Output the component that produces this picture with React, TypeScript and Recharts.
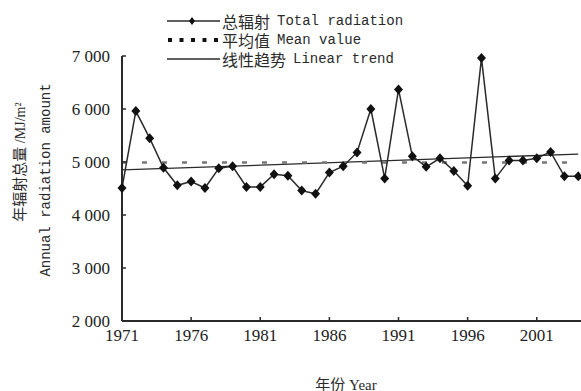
import React from "react"
import { LineChart, Line, XAxis, YAxis, Legend } from "recharts"

const years = [
  1971, 1972, 1973, 1974, 1975, 1976, 1977, 1978, 1979, 1980, 1981, 1982, 1983, 1984, 1985, 1986, 1987,
  1988, 1989, 1990, 1991, 1992, 1993, 1994, 1995, 1996, 1997, 1998, 1999, 2000, 2001, 2002, 2003, 2004,
]
const totalRadiation = [
  4510, 5960, 5450, 4890, 4560, 4630, 4510, 4880, 4920, 4530, 4530, 4770, 4740, 4460, 4400, 4800, 4920,
  5180, 6000, 4690, 6370, 5110, 4910, 5070, 4830, 4550, 6960, 4690, 5030, 5030, 5070, 5190, 4730, 4730,
]
const meanValue = 4990
const trendStart = 4850
const trendEnd = 5150

const xTicks = [1971, 1976, 1981, 1986, 1991, 1996, 2001]
const yTicks = [2000, 3000, 4000, 5000, 6000, 7000]

const legendCn = ["总辐射", "平均值", "线性趋势"]
const legendEn = ["Total radiation", "Mean value", "Linear trend"]
const yTitleCn = "年辐射总量"
const yTitleUnit = " /MJ/m²"
const yTitleEn = "Annual radiation amount"
const xTitle = "年份 Year"

const data = years.map((year, i) => ({
  year,
  total: totalRadiation[i],
  mean: meanValue,
  trend: i === 0 ? trendStart : i === years.length - 1 ? trendEnd : null,
}))

const ink = "#2a2a2a"
const serif = "'Liberation Serif', 'Noto Sans CJK SC', serif"
const mono = "'Liberation Mono', 'Noto Sans CJK SC', monospace"

function Diamond(props: any) {
  const { cx, cy } = props
  if (cx == null || cy == null) return null
  return <path d={`M${cx},${cy - 5} L${cx + 4.5},${cy} L${cx},${cy + 5} L${cx - 4.5},${cy} Z`} fill="#111" />
}

function LegendSymbol({ kind }: { kind: number }) {
  return (
    <svg width={56} height={12} style={{ display: "block", flex: "none" }}>
      {kind === 0 && (
        <>
          <line x1={2} y1={6} x2={55} y2={6} stroke={ink} strokeWidth={1.5} />
          <path d="M27,2 L30,6 L27,10 L24,6 Z" fill="#111" />
        </>
      )}
      {kind === 1 && <line x1={3} y1={6} x2={55} y2={6} stroke="#111" strokeWidth={4} strokeDasharray="4 7.5" />}
      {kind === 2 && <line x1={2} y1={6} x2={55} y2={6} stroke={ink} strokeWidth={1.3} />}
    </svg>
  )
}

function LegendBox() {
  return (
    <div style={{ display: "flex", flexDirection: "column" }}>
      {legendCn.map((cn, i) => (
        <div key={cn} style={{ display: "flex", alignItems: "center", height: 19, whiteSpace: "nowrap", color: ink }}>
          <LegendSymbol kind={i} />
          <span style={{ fontFamily: mono, fontSize: 16, marginLeft: 1 }}>{cn}</span>
          <span style={{ fontFamily: mono, fontSize: 14, marginLeft: 7 }}>{legendEn[i]}</span>
        </div>
      ))}
    </div>
  )
}

const fmt = (v: number) => `${Math.round(v / 1000)} 000`

export default function App() {
  return (
    <div style={{ position: "absolute", left: 0, top: 0, width: 581, height: 391, background: "#fff", overflow: "hidden" }}>
      <LineChart width={581} height={391} data={data} margin={{ top: 56, right: 0, bottom: 30, left: 0 }}>
        <XAxis
          dataKey="year"
          type="number"
          domain={[1971, 2004.2]}
          ticks={xTicks}
          height={40}
          tickSize={-4}
          tickMargin={12}
          axisLine={{ stroke: ink, strokeWidth: 2 }}
          tickLine={{ stroke: ink, strokeWidth: 1.5 }}
          tick={{ fontSize: 17, fill: "#222", fontFamily: serif }}
        />
        <YAxis
          type="number"
          domain={[2000, 7000]}
          ticks={yTicks}
          width={122}
          tickSize={-4}
          tickMargin={16}
          tickFormatter={fmt}
          axisLine={{ stroke: ink, strokeWidth: 2 }}
          tickLine={{ stroke: ink, strokeWidth: 1.5 }}
          tick={{ fontSize: 17, fill: "#222", fontFamily: serif }}
        />
        <Legend
          layout="vertical"
          align="center"
          verticalAlign="middle"
          content={() => <LegendBox />}
          wrapperStyle={{ left: 165, top: 11, width: 320 }}
        />
        <Line
          dataKey="trend"
          stroke={ink}
          strokeWidth={1.3}
          dot={false}
          connectNulls
          isAnimationActive={false}
        />
        <Line
          dataKey="mean"
          stroke="#777"
          strokeWidth={2.5}
          strokeDasharray="5 15"
          dot={false}
          isAnimationActive={false}
        />
        <Line
          dataKey="total"
          stroke={ink}
          strokeWidth={1.5}
          dot={(p: any) => <Diamond key={`d-${p.index}`} {...p} />}
          isAnimationActive={false}
        />
      </LineChart>
      <div
        style={{
          position: "absolute",
          left: 18,
          top: 162,
          transform: "translate(-50%, -50%) rotate(-90deg)",
          whiteSpace: "nowrap",
          fontFamily: serif,
          fontSize: 15,
          color: ink,
        }}
      >
        {yTitleCn}
        <span style={{ fontSize: 14 }}>{yTitleUnit}</span>
      </div>
      <div
        style={{
          position: "absolute",
          left: 46,
          top: 180,
          transform: "translate(-50%, -50%) rotate(-90deg)",
          whiteSpace: "nowrap",
          fontFamily: mono,
          fontSize: 14,
          color: ink,
        }}
      >
        {yTitleEn}
      </div>
      <div
        style={{
          position: "absolute",
          left: 346,
          top: 383,
          transform: "translate(-50%, -50%)",
          whiteSpace: "nowrap",
          fontFamily: serif,
          fontSize: 15,
          color: ink,
        }}
      >
        {xTitle}
      </div>
    </div>
  )
}
